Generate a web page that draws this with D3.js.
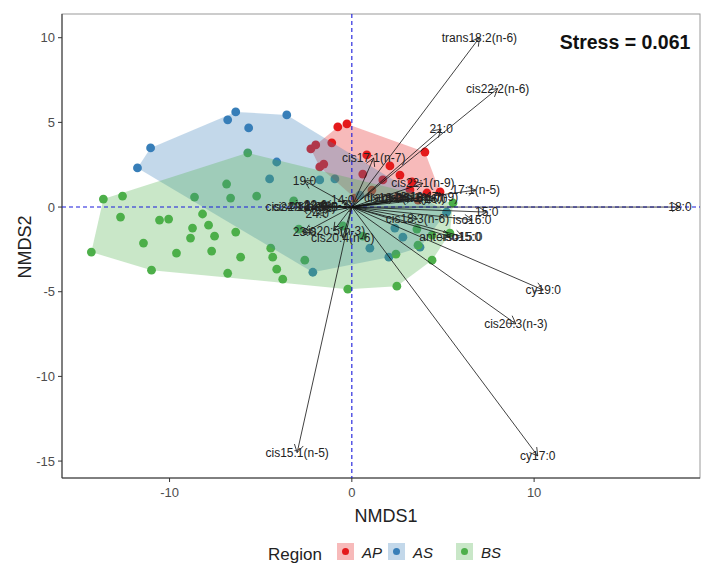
<!DOCTYPE html>
<html>
<head>
<meta charset="utf-8">
<script src="https://cdn.jsdelivr.net/npm/d3@7"></script>
<style>
body { margin: 0; background: #fff; }
text { font-family: "Liberation Sans", Arial, sans-serif; }
</style>
</head>
<body>
<svg width="705" height="565"></svg>
<script>
// groups / colours
const regions = ["AP", "AS", "BS"];
const regionColours = ["#E41A1C", "#377EB8", "#4DAF4A"];

// site scores (NMDS1, NMDS2) per region
const apX = [-0.77, -0.27, -2.25, -1.98, -1.10, -1.76, -1.54, 0.82, 2.09, 2.64, 3.30, 4.01, 0.60, 1.70, 3.19, 4.12, 4.84, 1.10, 2.53, 3.63, 0.16];
const apY = [4.73, 4.91, 3.43, 3.67, 3.79, 2.37, 2.54, 3.08, 2.43, 1.89, 1.48, 3.25, 1.95, 1.60, 1.01, 0.83, 0.89, 1.00, 0.59, 0.41, 0.53];

const asX = [-6.37, -6.81, -5.66, -3.57, -11.04, -11.76, -4.12, -4.51, -1.76, -0.93, -2.14, 0.99, 2.03, 2.80, 3.74, 2.36, 0.44, 5.2];
const asY = [5.62, 5.15, 4.67, 5.44, 3.49, 2.31, 2.66, 1.66, 1.60, 1.66, -3.85, -2.43, -2.96, -1.78, -2.37, -1.24, 0.71, -0.3];

const bsX = [-5.71, -6.87, -6.65, -5.22, -8.63, -13.63, -12.58, -12.69, -10.55, -10.05, -8.19, -8.74, -7.86, -8.85, -7.53, -6.37, -11.43, -7.69, -9.62, -6.10, -14.29, -10.99, -6.81, -4.45, -4.34, -4.12, -3.79, -2.91, -2.58, -0.22, -0.49, -3.19, 0.60, 2.42, 3.63, 4.40, 4.40, 2.47, 5.55, 5.38, 3.57];
const bsY = [3.20, 1.36, 0.53, 0.65, 0.59, 0.47, 0.65, -0.59, -0.77, -0.71, -0.41, -1.24, -1.07, -1.83, -1.72, -1.48, -2.13, -2.60, -2.72, -2.96, -2.66, -3.73, -3.91, -2.43, -2.96, -3.67, -4.26, -1.30, -3.14, -4.85, -1.12, 0.36, -1.72, -2.78, -2.25, -3.14, -1.66, -4.67, 0.24, -1.54, -1.30];

// fatty acid vectors (arrow tips)
const vecNames = ["trans18:2(n-6)", "cis22:2(n-6)", "21:0", "cis17:1(n-7)", "cis22:1(n-9)", "17:1(n-5)", "18:0", "15:0", "iso16:0", "iso15:0", "anteiso15:0", "cy19:0", "cis20:3(n-3)", "cy17:0", "cis15:1(n-5)", "19:0", "cis18:3(n-6)", "cis20:4(n-6)", "23:0", "cis20:5(n-3)", "24:0", "cis24:1(n-9)", "cis20:1(n-9)", "22:0", "20:0", "cis22:6(n-3)", "14:0", "trans16:1(n-7)", "cis16:1(n-7)", "cis18:1(n-9)", "16:0", "cis18:2(n-6)"];
const vecX = [7.0, 8.0, 4.9, 1.2, 3.9, 6.8, 18.0, 7.4, 6.6, 6.1, 5.4, 10.5, 9.0, 10.2, -3.0, -2.6, 3.6, -0.5, -2.6, -1.0, -1.9, -3.0, -2.6, -2.0, -1.4, -1.7, -0.5, 2.9, 3.4, 4.1, 4.6, 2.4];
const vecY = [10.0, 7.0, 4.6, 2.9, 1.4, 1.0, 0.0, -0.3, -0.75, -1.75, -1.75, -4.9, -6.9, -14.7, -14.5, 1.55, -0.7, -1.8, -1.5, -1.4, -0.4, 0.0, 0.0, 0.05, 0.0, 0.1, 0.4, 0.6, 0.55, 0.6, 0.5, 0.55];

const xTicks = [-10, 0, 10];
const yTicks = [10, 5, 0, -5, -10, -15];

const svg = d3.select("svg");
const x = d3.scaleLinear().domain([-15.9, 19.1]).range([62, 700]);
const y = d3.scaleLinear().domain([-16.0, 11.4]).range([478, 14]);

const siteX = [apX, asX, bsX], siteY = [apY, asY, bsY];

// points first, hulls drawn over them with alpha
regions.forEach((r, i) => {
  const pts = siteX[i].map((v, j) => [v, siteY[i][j]]);
  svg.append("g").selectAll("circle").data(pts).enter().append("circle")
    .attr("cx", d => x(d[0])).attr("cy", d => y(d[1])).attr("r", 4.4)
    .style("fill", regionColours[i]);
});
regions.forEach((r, i) => {
  const pts = siteX[i].map((v, j) => [x(v), y(siteY[i][j])]);
  const hull = d3.polygonHull(pts);
  svg.append("path").attr("d", "M" + hull.join("L") + "Z")
    .style("fill", regionColours[i]).style("fill-opacity", 0.3);
});

// panel border + axes
svg.append("rect").attr("x", 62).attr("y", 14).attr("width", 638).attr("height", 464)
  .style("fill", "none").style("stroke", "#9a9a9a").style("stroke-width", 1);
svg.append("line").attr("x1", 62).attr("x2", 62).attr("y1", 14).attr("y2", 478).style("stroke", "#333");
svg.append("line").attr("x1", 62).attr("x2", 700).attr("y1", 478).attr("y2", 478).style("stroke", "#333");

// reference lines
svg.append("line").attr("x1", x(0)).attr("x2", x(0)).attr("y1", 14).attr("y2", 478)
  .style("stroke", "#1a1adb").style("stroke-dasharray", "4,3").style("stroke-width", 1.1);
svg.append("line").attr("x1", 62).attr("x2", 700).attr("y1", y(0)).attr("y2", y(0))
  .style("stroke", "#1a1adb").style("stroke-dasharray", "4,3").style("stroke-width", 1.1);

// vectors
const vg = svg.append("g");
vecNames.forEach((n, i) => {
  const x0 = x(0), y0 = y(0), x1 = x(vecX[i]), y1 = y(vecY[i]);
  const a = Math.atan2(y1 - y0, x1 - x0), L = 9, w = Math.PI / 6;
  vg.append("path")
    .attr("d", `M${x0},${y0}L${x1},${y1}M${x1 - L * Math.cos(a - w)},${y1 - L * Math.sin(a - w)}L${x1},${y1}L${x1 - L * Math.cos(a + w)},${y1 - L * Math.sin(a + w)}`)
    .style("fill", "none").style("stroke", "#111").style("stroke-width", 0.8);
});
vecNames.forEach((n, i) => {
  vg.append("text").attr("x", x(vecX[i])).attr("y", y(vecY[i]))
    .attr("text-anchor", "middle").attr("dominant-baseline", "central")
    .style("font-size", "12px").style("fill", "#222").text(n);
});

// ticks
xTicks.forEach(t => {
  svg.append("line").attr("x1", x(t)).attr("x2", x(t)).attr("y1", 478).attr("y2", 482).style("stroke", "#333");
  svg.append("text").attr("x", x(t)).attr("y", 497).attr("text-anchor", "middle")
    .style("font-size", "13px").style("fill", "#4d4d4d").text(t);
});
yTicks.forEach(t => {
  svg.append("line").attr("x1", 58).attr("x2", 62).attr("y1", y(t)).attr("y2", y(t)).style("stroke", "#333");
  svg.append("text").attr("x", 55).attr("y", y(t)).attr("text-anchor", "end").attr("dominant-baseline", "central")
    .style("font-size", "13px").style("fill", "#4d4d4d").text(t);
});

// titles
svg.append("text").attr("x", 386).attr("y", 522).attr("text-anchor", "middle")
  .style("font-size", "18px").style("fill", "#222").text("NMDS1");
svg.append("text").attr("transform", "translate(31,247) rotate(-90)").attr("text-anchor", "middle")
  .style("font-size", "18px").style("fill", "#222").text("NMDS2");
svg.append("text").attr("x", 625).attr("y", 49).attr("text-anchor", "middle")
  .style("font-size", "19.5px").style("font-weight", "bold").style("fill", "#111").text("Stress = 0.061");

// legend
const lg = svg.append("g");
lg.append("text").attr("x", 268).attr("y", 560).style("font-size", "17px").style("fill", "#222").text("Region");
const keyX = [337, 388, 456];
regions.forEach((r, i) => {
  lg.append("rect").attr("x", keyX[i]).attr("y", 543).attr("width", 17).attr("height", 17)
    .style("fill", regionColours[i]).style("fill-opacity", 0.3);
  lg.append("circle").attr("cx", keyX[i] + 8.5).attr("cy", 551.5).attr("r", 3.5).style("fill", regionColours[i]);
  lg.append("text").attr("x", keyX[i] + 25).attr("y", 558).style("font-size", "15px")
    .style("font-style", "italic").style("fill", "#222").text(r);
});
</script>
</body>
</html>
